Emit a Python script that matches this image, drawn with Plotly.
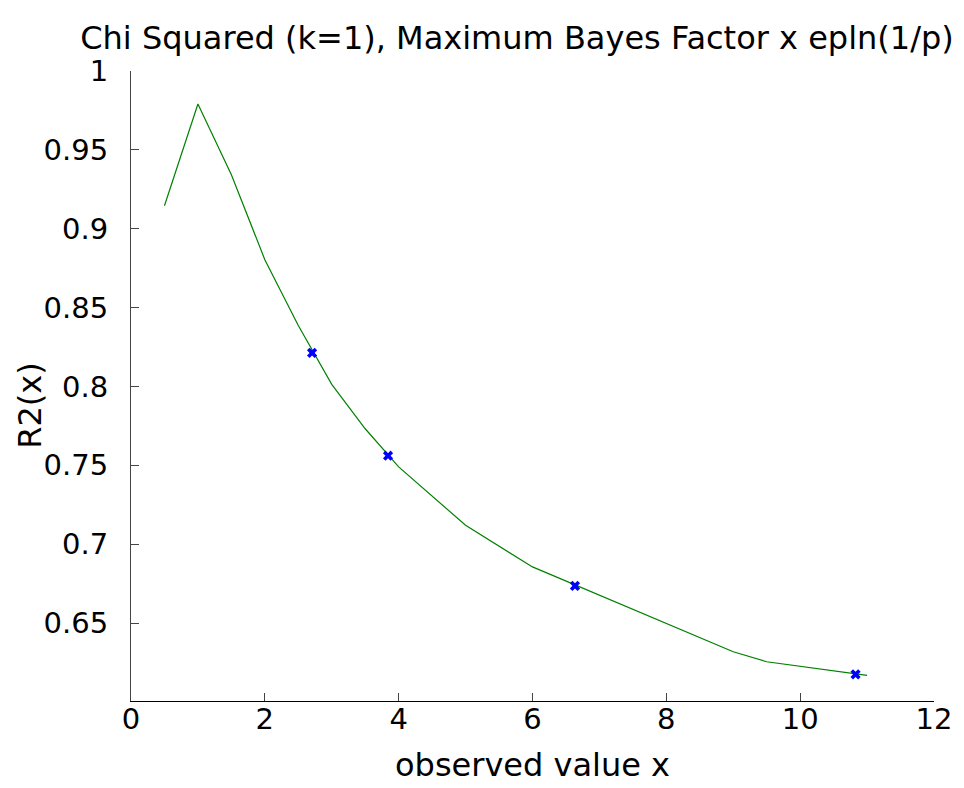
import plotly.graph_objects as go

# Curve vertices
curve_x = [0.5, 1, 1.5, 2, 2.5, 3, 3.5, 4, 5, 6, 9, 9.5, 11]
curve_y = [0.9146, 0.9791, 0.9342, 0.8804, 0.8386, 0.8013, 0.7732, 0.7490,
           0.7120, 0.6856, 0.6318, 0.6255, 0.6169]

# Marked points (p = 0.1, 0.05, 0.01, 0.001)
mark_x = [2.706, 3.841, 6.635, 10.828]
mark_y = [0.8213, 0.7561, 0.6736, 0.6175]

x_ticks = [0, 2, 4, 6, 8, 10, 12]
y_ticks = [0.65, 0.7, 0.75, 0.8, 0.85, 0.9, 0.95, 1]
y_ticktext = ["0.65", "0.7", "0.75", "0.8", "0.85", "0.9", "0.95", "1"]

FONT = "DejaVu Sans, Verdana, sans-serif"
W, H = 964, 788
ML, MR, MT, MB = 131, 28, 71, 86
PW, PH = W - ML - MR, H - MT - MB

fig = go.Figure()
fig.add_trace(go.Scatter(x=curve_x, y=curve_y, mode="lines",
                         line=dict(color="#008000", width=1.2),
                         showlegend=False, hoverinfo="skip"))
fig.add_trace(go.Scatter(x=mark_x, y=mark_y, mode="markers",
                         marker=dict(symbol="x", size=9, color="#0000ff",
                                     line=dict(width=0)),
                         showlegend=False))

fig.update_layout(
    width=W, height=H,
    paper_bgcolor="white", plot_bgcolor="white",
    margin=dict(l=ML, r=MR, t=MT, b=MB),
    font=dict(family=FONT, color="black", size=29),
    title=dict(text="Chi Squared (k=1), Maximum Bayes Factor x epln(1/p)",
               x=517 / W, xanchor="center",
               y=1 - 38 / H, yanchor="middle",
               font=dict(size=32, family=FONT, color="black")),
    xaxis=dict(range=[0, 12], tickvals=x_ticks, ticks="inside", ticklen=8,
               tickcolor="#444", showgrid=False, zeroline=False,
               showline=True, linecolor="black", linewidth=1, mirror=False,
               tickfont=dict(size=29), ticklabelstandoff=-8,
               title=dict(text="observed value x", font=dict(size=32),
                          standoff=18)),
    yaxis=dict(range=[0.6006, 1], tickvals=y_ticks, ticktext=y_ticktext,
               ticks="inside", ticklen=8, tickcolor="#444", showgrid=False,
               zeroline=False, showline=True, linecolor="#444", linewidth=1,
               mirror=False, tickfont=dict(size=29), ticklabelstandoff=16),
    annotations=[dict(text="R2(x)", textangle=-90, showarrow=False,
                      xref="paper", yref="paper",
                      x=-(ML - 30) / PW, y=(H - MB - 406) / PH,
                      xanchor="center", yanchor="middle",
                      font=dict(size=32, family=FONT, color="black"))],
)

fig.write_html(
    "out.html",
    config={"displayModeBar": False},
    post_script="document.body.style.margin='0';"
                "document.body.style.overflow='hidden';",
)
